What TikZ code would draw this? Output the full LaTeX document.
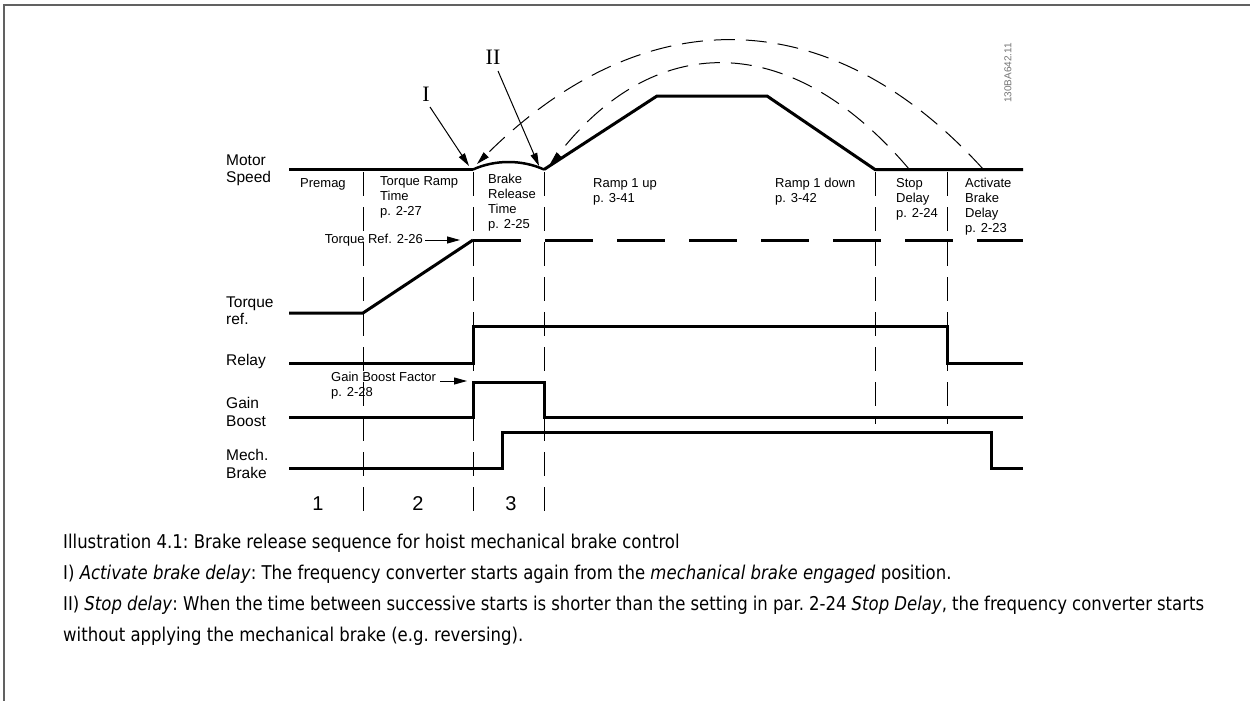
\documentclass[tikz,border=0pt]{standalone}
\usepackage{fontspec}
\setmainfont{Liberation Sans}
\newfontfamily\capfont[FakeStretch=0.87]{DejaVu Sans}
\newfontfamily\romfont{Liberation Serif}
\usetikzlibrary{arrows.meta,calc}
\begin{document}
\begin{tikzpicture}[x=1pt,y=-1pt,
  trace/.style={line width=3pt, line join=miter, line cap=butt},
  vdash/.style={line width=1pt, dash pattern=on 24pt off 11pt},
  arcdash/.style={line width=1pt, dash pattern=on 21pt off 11pt},
  rowlab/.style={anchor=north west, inner sep=0pt, align=left, font=\fontsize{15.5}{17.5}\selectfont},
  collab/.style={anchor=north west, inner sep=0pt, align=left, font=\fontsize{13}{15}\selectfont},
  numlab/.style={inner sep=0pt, font=\fontsize{20}{22}\selectfont},
  romlab/.style={inner sep=0pt, font=\romfont\fontsize{22}{24}\selectfont},
  tipar/.style={line width=1pt, -{Triangle[length=13pt,width=7pt]}},
  capline/.style={anchor=base west, inner sep=0pt, font=\capfont\fontsize{19}{22}\selectfont\frenchspacing},
  frame/.style={line width=2pt, draw=black!62}
]
\useasboundingbox (0,0) rectangle (1250,701);
% frame
\draw[frame] (4,701) -- (4,5) -- (1250,5);

% key coordinates
\coordinate (ms0) at (289,169.5);
\coordinate (msA) at (473,169.5);
\coordinate (msB) at (544,169.5);
\coordinate (msP1) at (657,96);
\coordinate (msP2) at (767,96);
\coordinate (msC) at (875,169.5);
\coordinate (msE) at (1023,169.5);
\coordinate (arcOutS) at (983,169);
\coordinate (arcOutE) at (477,164);
\coordinate (arcInS) at (909,169);
\coordinate (arcInE) at (550,164);

% vertical dashed lines
\foreach \x/\yb in {363/512,473/512,544/512,875/424,947/424}
  \draw[vdash] (\x,172) -- (\x,\yb);

% motor speed
\draw[trace] (ms0) -- (msA);
\draw[line width=2.5pt] (msA) .. controls (495,159.5) and (522,159.5) .. (msB);
\draw[trace] (msB) -- (msP1) -- (msP2) -- (msC) -- (msE);

% dashed arcs
\draw[arcdash] (arcOutS) .. controls (828,-2) and (640,-2) .. ($(arcOutE)+(4,-4)$);
\draw[arcdash] (arcInS) .. controls (790,28.7) and (652,28.7) .. ($(arcInE)+(4,-4)$);

% torque ref
\draw[trace] (289,313) -- (363,313) -- (473,240);
\draw[trace, dash pattern=on 48pt off 24pt] (473,240) -- (1023,240);

% relay
\draw[trace] (289,363) -- (473,363) -- (473,326) -- (947,326) -- (947,363) -- (1023,363);
% gain boost
\draw[trace] (289,417) -- (473,417) -- (473,382) -- (544,382) -- (544,417) -- (1023,417);
% mech brake
\draw[trace] (289,468) -- (502,468) -- (502,432) -- (991,432) -- (991,468) -- (1023,468);

% row labels
\node[rowlab] (lmotor) at (226,155) {Motor\\[-1pt]Speed};
\node[rowlab] (ltorque) at (226,296.5) {Torque\\ref.};
\node[rowlab] (lrelay) at (226,354.5) {Relay};
\node[rowlab] (lgain) at (226,397.5) {Gain\\Boost};
\node[rowlab] (lmech) at (226,449.5) {Mech.\\Brake};

% column labels
\node[collab] (cpre) at (300,178.3) {Premag};
\node[collab] (ctrt) at (380,176.3) {Torque Ramp\\Time\\p. 2-27};
\node[collab] (cbrt) at (488,174.3) {Brake\\Release\\Time\\p. 2-25};
\node[collab] (cr1u) at (593,178.3) {Ramp 1 up\\p. 3-41};
\node[collab] (cr1d) at (775,178.3) {Ramp 1 down\\p. 3-42};
\node[collab] (csd) at (896,178.3) {Stop\\Delay\\p. 2-24};
\node[collab] (cabd) at (965,178.3) {Activate\\Brake\\Delay\\p. 2-23};

% annotations
\node[collab, anchor=east] (tref) at (423,240) {Torque Ref. 2-26};
\coordinate (trefT) at (460,240);
\draw[tipar] (tref.east) ++(2,0) coordinate (trefS) -- (trefT);
\node[collab] (gbf) at (331,372.3) {Gain Boost Factor\\p. 2-28};
\coordinate (gbfS) at (440,381);
\coordinate (gbfT) at (467,381);
\draw[tipar] (gbfS) -- (gbfT);

% roman numerals and arrows
\node[romlab] (rI) at (426,94) {I};
\node[romlab] (rII) at (493,57) {II};
\coordinate (tipI) at (469,166);
\coordinate (tipII) at (539,166);
\draw[tipar] (430,107) -- (tipI);
\draw[tipar] (498,71) -- (tipII);

% arc arrow heads
\draw[line width=1pt, -{Triangle[length=13pt,width=7pt]}] ($(arcOutE)+(6,-6)$) -- (arcOutE);
\draw[line width=1pt, -{Triangle[length=13pt,width=7pt]}] ($(arcInE)+(6,-6)$) -- (arcInE);

% phase numbers
\node[numlab] (n1) at (318,504) {1};
\node[numlab] (n2) at (418,504) {2};
\node[numlab] (n3) at (511,504) {3};

% drawing code
\node[rotate=90, inner sep=0pt, text=black!55, font=\fontsize{10}{12}\selectfont] (code) at (1008,73) {130BA642.11};

% caption
\node[capline] (cap1) at (63,548) {Illustration 4.1: Brake release sequence for hoist mechanical brake control};
\node[capline] (cap2) at (63,579) {I) \textit{Activate brake delay}: The frequency converter starts again from the \textit{mechanical brake engaged} position.};
\node[capline] (cap3) at (63,610) {\makebox[1141pt][s]{II) \textit{Stop delay}: When the time between successive starts is shorter than the setting in par. 2-24 \textit{Stop Delay}, the frequency converter starts}};
\node[capline] (cap4) at (63,641) {without applying the mechanical brake (e.g. reversing).};
\end{tikzpicture}
\end{document}
